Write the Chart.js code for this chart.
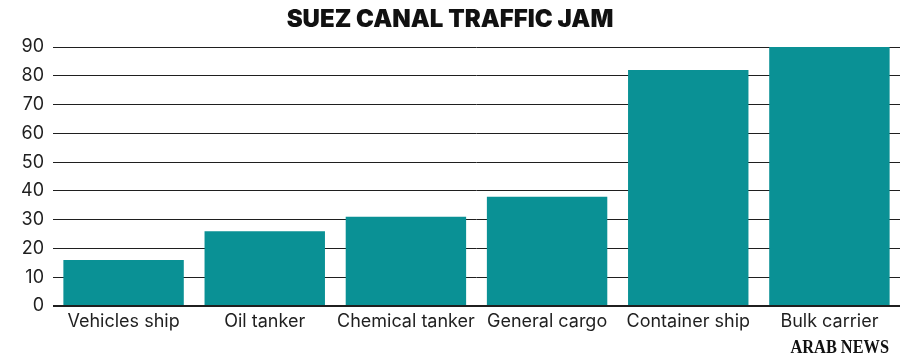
<!DOCTYPE html>
<html>
<head>
<meta charset="utf-8">
<script src="https://cdn.jsdelivr.net/npm/chart.js@4"></script>
<style>
  html, body { margin: 0; padding: 0; background: #fff; }
  .chart-wrap { position: relative; width: 900px; height: 360px; }
</style>
</head>
<body>
<div class="chart-wrap"><canvas id="suezChart" width="900" height="360"></canvas></div>
<script>
// Suez canal traffic jam - ships waiting by type
const shipTypes = ["Vehicles ship", "Oil tanker", "Chemical tanker", "General cargo", "Container ship", "Bulk carrier"];
const shipCounts = [16, 26, 31, 38, 82, 90];
const yTicks = [0, 10, 20, 30, 40, 50, 60, 70, 80, 90];

const barColor = "#0a9195";
const inkColor = "#1f1f1f";
const labelFont = { family: "Inter", size: 18, weight: "400" };

/* ── Title + logo drawn on the canvas ── */
const headerPlugin = {
  id: "header",
  afterDraw(chart) {
    const { ctx, width } = chart;
    ctx.save();
    ctx.fillStyle = "#111";
    ctx.textAlign = "center";
    ctx.textBaseline = "alphabetic";
    ctx.font = "900 24px Inter";
    ctx.fillText("SUEZ CANAL TRAFFIC JAM", width / 2, 27);

    // logo: condensed bold serif
    ctx.translate(889, 353);
    ctx.scale(0.86, 1);
    ctx.textAlign = "right";
    ctx.font = "bold 19px 'Liberation Serif'";
    ctx.fillText("ARAB NEWS", 0, 0);
    ctx.restore();
  },
};

new Chart(document.getElementById("suezChart"), {
  type: "bar",
  data: {
    labels: shipTypes,
    datasets: [
      {
        data: shipCounts,
        backgroundColor: barColor,
        borderWidth: 0,
        barPercentage: 0.853,
        categoryPercentage: 1,
      },
    ],
  },
  options: {
    responsive: false,
    animation: false,
    devicePixelRatio: 1,
    layout: { padding: { top: 47, right: 0, bottom: 0, left: 0 } },
    plugins: {
      legend: { display: false },
      tooltip: { enabled: false },
    },
    scales: {
      x: {
        grid: { display: false, drawTicks: false },
        border: { display: false },
        ticks: { font: labelFont, color: inkColor, padding: 5, maxRotation: 0, autoSkip: false },
        afterFit: (scale) => { scale.height = 54; },
      },
      y: {
        min: 0,
        max: 90,
        afterBuildTicks: (scale) => { scale.ticks = yTicks.map((v) => ({ value: v })); },
        grid: {
          color: inkColor,
          lineWidth: (c) => (c.tick && c.tick.value === 0 ? 2 : 1),
          drawTicks: false,
        },
        border: { display: false },
        ticks: { font: labelFont, color: inkColor, padding: 9, autoSkip: false },
        afterFit: (scale) => { scale.width = 53; },
      },
    },
  },
  plugins: [headerPlugin],
});
</script>
</body>
</html>
